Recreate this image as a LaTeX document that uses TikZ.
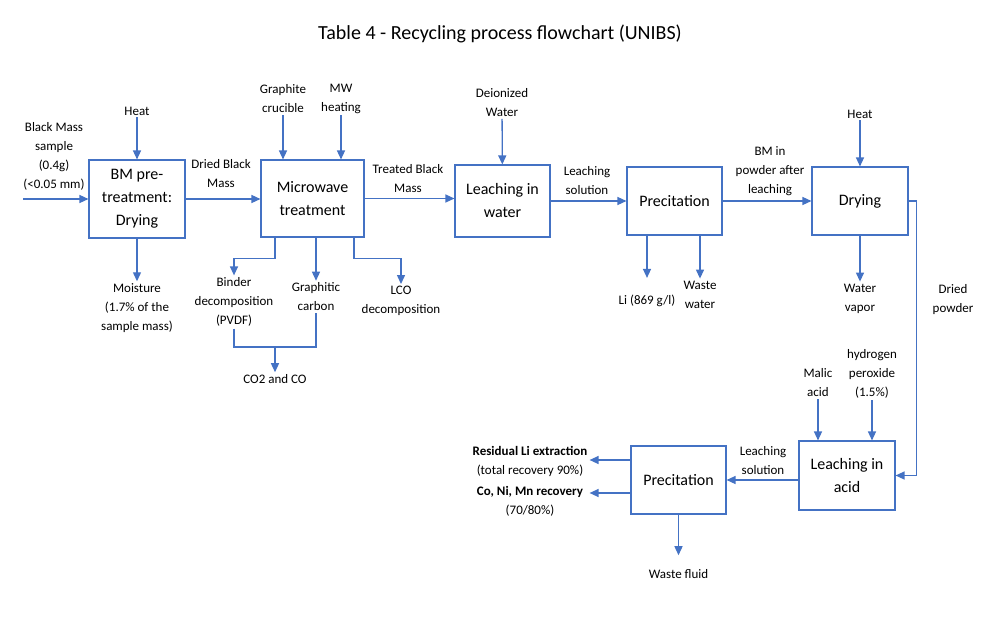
\documentclass[tikz,border=0pt]{standalone}
\usepackage{fontspec}
\setmainfont{Carlito}
\usetikzlibrary{arrows.meta}
\definecolor{flowblue}{HTML}{4472C4}
\tikzset{bx/.append style={draw=flowblue,line width=1.1pt,align=center,inner sep=0pt,font=\fontsize{16}{23}\selectfont}}
\tikzset{lb/.append style={align=center,inner sep=2pt,font=\fontsize{13}{19}\selectfont}}
\tikzset{fl/.append style={draw=flowblue,line width=1.3pt,-{Triangle[length=9pt,width=8pt]}}}
\tikzset{ln/.append style={draw=flowblue,line width=1.3pt}}

\begin{document}
\begin{tikzpicture}[x=1pt,y=-1pt]
                \useasboundingbox (0,0) rectangle (1004,618);
                \node[font=\fontsize{20}{24}\selectfont] (ttl) at (500,34) {Table 4 - Recycling process flowchart (UNIBS)};
                % \SetUpBoxes
                \node[bx,minimum width=96,minimum height=78] (pre) at (137,199) {BM pre-\\treatment:\\Drying};
                \node[bx,minimum width=103,minimum height=77] (mw) at (312.5,198.5) {Microwave\\treatment};
                \node[bx,minimum width=95,minimum height=72] (lw) at (502.5,201) {Leaching in\\water};
                \node[bx,minimum width=95,minimum height=68] (pr1) at (674.5,201) {Precitation};
                \node[bx,minimum width=96,minimum height=68] (dry) at (860,201) {Drying};
                \node[bx,minimum width=96,minimum height=69] (la) at (847,475.5) {Leaching in\\acid};
                \node[bx,minimum width=95,minimum height=68] (pr2) at (678.5,480) {Precitation};
                % \SetUpLabels
                \node[lb] (bms) at (54,156.5) {Black Mass\\sample\\(0.4g)\\(<0.05 mm)};
                \node[lb] (ht1) at (137,111) {Heat};
                \node[lb] (moi) at (137,308) {Moisture\\(1.7\% of the\\sample mass)};
                \node[lb] (dbm) at (221,173.5) {Dried Black\\Mass};
                \node[lb] (gcr) at (283,98.5) {Graphite\\crucible};
                \node[lb] (mwh) at (341,98.5) {MW\\heating};
                \node[lb] (bdr) at (234,302) {Binder\\decomposition\\(PVDF)};
                \node[lb] (gcb) at (316,297) {Graphitic\\carbon};
                \node[lb] (lco) at (401,301) {LCO\\decomposition};
                \node[lb] (co) at (275,379) {CO2 and CO};
                \node[lb] (tbm) at (408,178.5) {Treated Black\\Mass};
                \node[lb] (diw) at (502,102.5) {Deionized\\Water};
                \node[lb] (ls1) at (587,181) {Leaching\\solution};
                \node[lb] (li) at (647,301) {Li (869 g/l)};
                \node[lb] (wwt) at (700,294.5) {Waste\\water};
                \node[lb] (bmp) at (770,171) {BM in\\powder after\\leaching};
                \node[lb] (ht2) at (860,114) {Heat};
                \node[lb] (wvp) at (860,298.5) {Water\\vapor};
                \node[lb] (dpw) at (953,300) {Dried\\powder};
                \node[lb] (mal) at (818,382.5) {Malic\\acid};
                \node[lb] (hpx) at (872,373.5) {hydrogen\\peroxide\\(1.5\%)};
                \node[lb] (ls2) at (763,460.5) {Leaching\\solution};
                \node[lb] (res) at (530,461) {\textbf{Residual Li extraction}\\(total recovery 90\%)};
                \node[lb] (cnm) at (530,501) {\textbf{Co, Ni, Mn recovery}\\(70/80\%)};
                \node[lb] (wfl) at (678.5,574) {Waste fluid};
                \coordinate (bmin) at (23,199);
                \coordinate (cj) at (275,347);
                % first line
                \path (bmin) edge[fl] (pre);
                \path (ht1) edge[fl] (pre);
                \path (pre) edge[fl] (moi);
                \draw[fl] (pre.east) -- (pre.east -| mw.west);
                \draw[fl] (gcr) -- (gcr |- mw.north);
                \draw[fl] (mwh) -- (mwh |- mw.north);
                \draw[fl] ([xshift=-37.5pt]mw.south) -- ++(0,21) -| (bdr.north);
                \draw[fl] (mw.south -| gcb) -- (gcb.north);
                \draw[fl] ([xshift=41.5pt]mw.south) -- ++(0,21) -| (lco.north);
                \draw[ln] (bdr.south) |- (cj) -| (gcb.south);
                \draw[fl] (cj) -- (cj |- co.north);
                \draw[fl] (mw.east) -- (mw.east -| lw.west);
                \path (diw) edge[fl] (lw);
                \draw[fl] (lw.east) -- (lw.east -| pr1.west);
                \draw[fl,shorten >=15pt] (pr1.south -| li) -- (li.north);
                \draw[fl] (pr1.south -| wwt) -- (wwt.north);
                \draw[fl] (pr1.east) -- (pr1.east -| dry.west);
                \path (ht2) edge[fl] (dry);
                \path (dry) edge[fl] (wvp);
                % second line
                \draw[fl] (dry.east) -- ++(8,0) |- (la.east);
                \draw[fl] (mal) -- (mal |- la.north);
                \draw[fl] (hpx) -- (hpx |- la.north);
                \draw[fl] (la.west |- pr2) -- (pr2.east);
                \draw[fl] ([yshift=20pt]pr2.west) -- ([yshift=20pt]pr2.west -| res.east);
                \draw[fl] ([yshift=-13pt]pr2.west) -- ([yshift=-13pt]pr2.west -| res.east);
                \path (pr2) edge[fl,shorten >=12pt] (wfl);
            \end{tikzpicture}
\end{document}
